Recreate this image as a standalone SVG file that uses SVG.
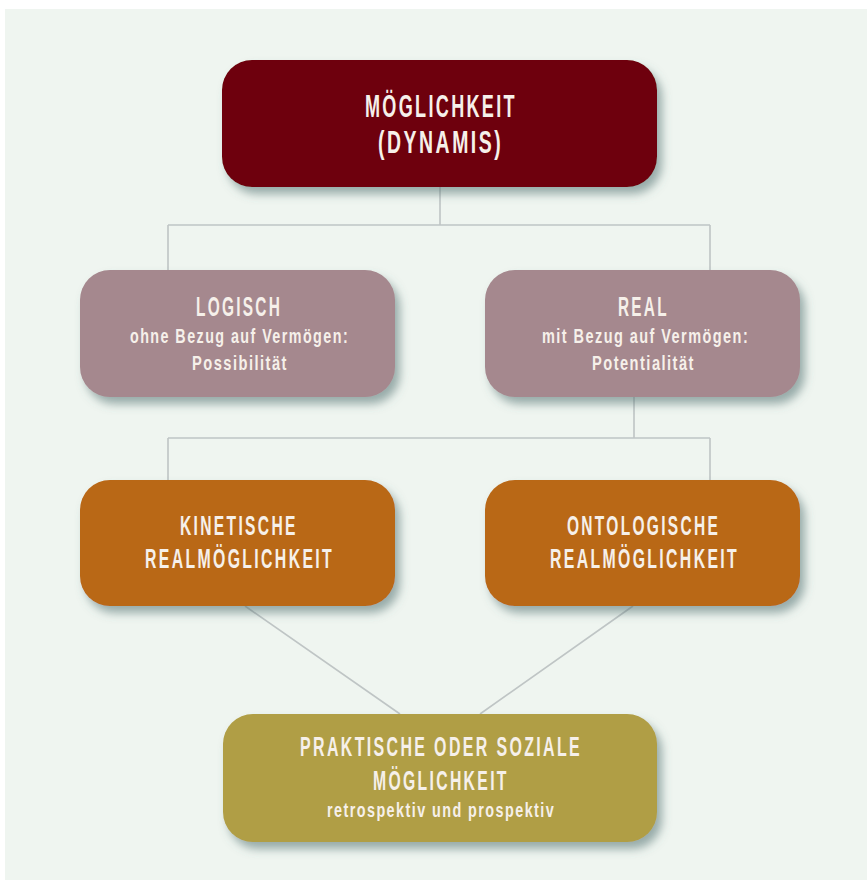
<svg xmlns="http://www.w3.org/2000/svg" width="867" height="880" viewBox="0 0 867 880">
<defs>
<filter id="sh" x="-10%" y="-20%" width="125%" height="150%">
<feDropShadow dx="5" dy="7" stdDeviation="5" flood-color="#4f6e6e" flood-opacity="0.55"/>
</filter>
<style>
.t{font-family:"Liberation Sans","DejaVu Sans",sans-serif;fill:#f6f0ea;font-weight:bold;letter-spacing:4px}
.h1{font-size:31px}
.h2{font-size:27px}
.s{font-size:20px;letter-spacing:2px}
.c{fill:none;stroke:#bfc5c5;stroke-width:1.6}
</style>
</defs>
<rect x="0" y="0" width="867" height="880" fill="#ffffff"/>
<rect x="5" y="9" width="862" height="871" fill="#eff5f0"/>
<g id="connectors">
<path class="c" d="M440 187V225M168 225H710M168 225V270M710 225V270"/>
<path class="c" d="M634 397V438M168 438H710M168 438V480M710 438V480"/>
<path class="c" d="M245 606L400 714M633 606L480 714"/>
</g>
<g id="n-moeglichkeit">
<rect x="222" y="60" width="435" height="127" rx="30" fill="#6e0609" filter="url(#sh)"/>
<text class="t h1" transform="translate(365 117) scale(0.62 1)" textLength="245" lengthAdjust="spacingAndGlyphs">MÖGLICHKEIT</text>
<text class="t h1" transform="translate(378 153) scale(0.62 1)" textLength="202" lengthAdjust="spacingAndGlyphs">(DYNAMIS)</text>
</g>
<g id="n-logisch">
<rect x="80" y="270" width="315" height="127" rx="30" fill="#a5888e" filter="url(#sh)"/>
<text class="t h2" transform="translate(196 316) scale(0.62 1)" textLength="139" lengthAdjust="spacingAndGlyphs">LOGISCH</text>
<text class="t s" transform="translate(130 343) scale(0.7 1)" textLength="313" lengthAdjust="spacingAndGlyphs">ohne Bezug auf Vermögen:</text>
<text class="t s" transform="translate(192 370) scale(0.7 1)" textLength="137" lengthAdjust="spacingAndGlyphs">Possibilität</text>
</g>
<g id="n-real">
<rect x="485" y="270" width="315" height="127" rx="30" fill="#a5888e" filter="url(#sh)"/>
<text class="t h2" transform="translate(618 316) scale(0.62 1)" textLength="82" lengthAdjust="spacingAndGlyphs">REAL</text>
<text class="t s" transform="translate(542 343) scale(0.7 1)" textLength="296" lengthAdjust="spacingAndGlyphs">mit Bezug auf Vermögen:</text>
<text class="t s" transform="translate(592 370) scale(0.7 1)" textLength="147" lengthAdjust="spacingAndGlyphs">Potentialität</text>
</g>
<g id="n-kinetisch">
<rect x="80" y="480" width="315" height="126" rx="30" fill="#b96714" filter="url(#sh)"/>
<text class="t h2" transform="translate(180 535) scale(0.62 1)" textLength="190" lengthAdjust="spacingAndGlyphs">KINETISCHE</text>
<text class="t h2" transform="translate(145 568) scale(0.62 1)" textLength="305" lengthAdjust="spacingAndGlyphs">REALMÖGLICHKEIT</text>
</g>
<g id="n-ontologisch">
<rect x="485" y="480" width="315" height="126" rx="30" fill="#b96714" filter="url(#sh)"/>
<text class="t h2" transform="translate(567 535) scale(0.62 1)" textLength="247" lengthAdjust="spacingAndGlyphs">ONTOLOGISCHE</text>
<text class="t h2" transform="translate(550 568) scale(0.62 1)" textLength="305" lengthAdjust="spacingAndGlyphs">REALMÖGLICHKEIT</text>
</g>
<g id="n-praktisch">
<rect x="223" y="714" width="434" height="128" rx="30" fill="#b09e45" filter="url(#sh)"/>
<text class="t h2" transform="translate(300 756) scale(0.62 1)" textLength="455" lengthAdjust="spacingAndGlyphs">PRAKTISCHE ODER SOZIALE</text>
<text class="t h2" transform="translate(373 790) scale(0.62 1)" textLength="219" lengthAdjust="spacingAndGlyphs">MÖGLICHKEIT</text>
<text class="t s" transform="translate(327 817) scale(0.7 1)" font-size="19" textLength="326" lengthAdjust="spacingAndGlyphs">retrospektiv und prospektiv</text>
</g>
</svg>
